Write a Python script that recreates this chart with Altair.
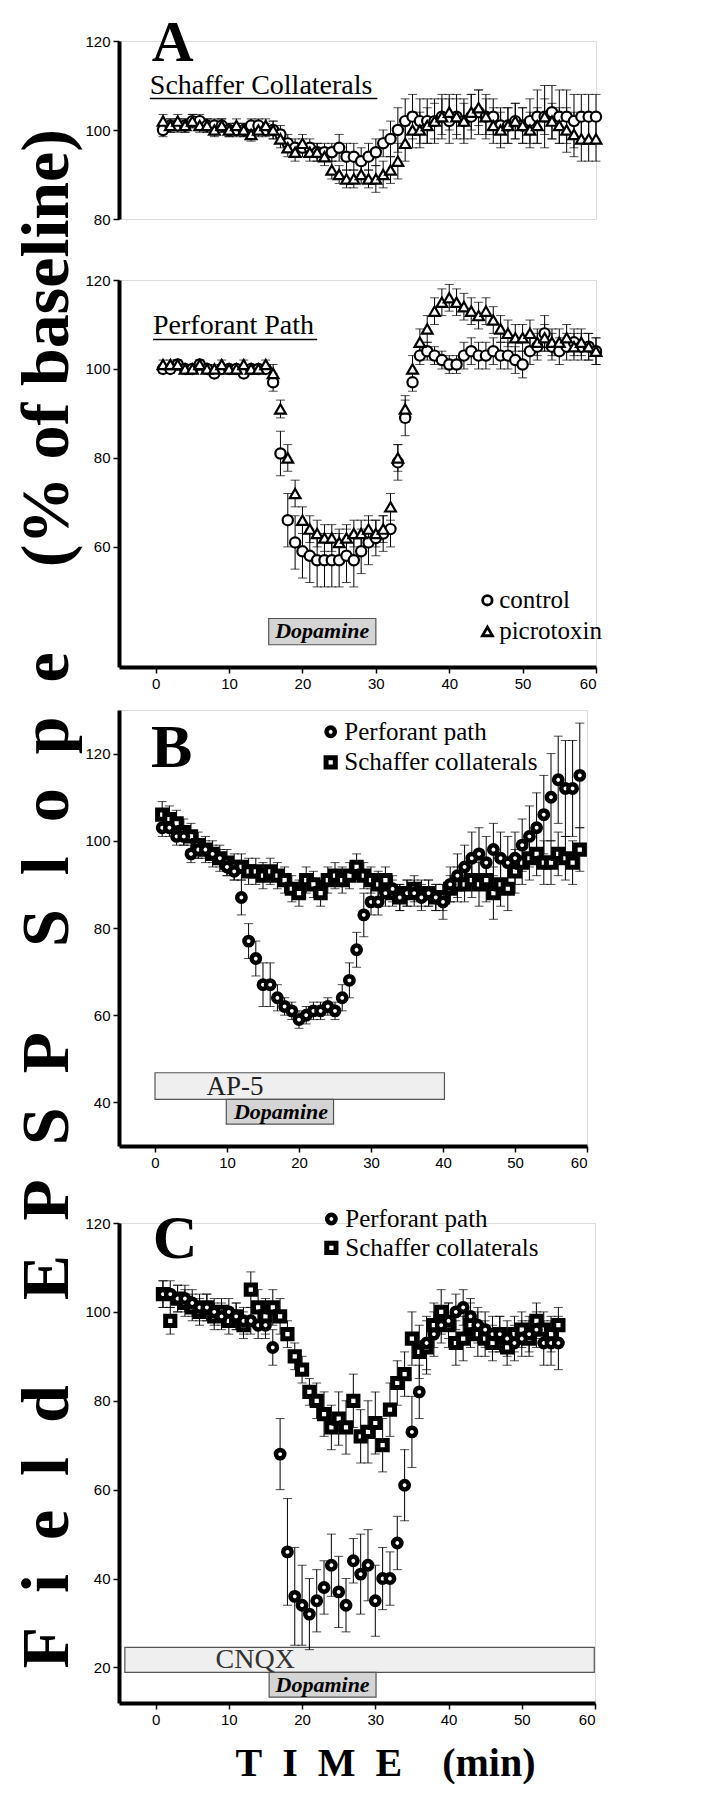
import altair as alt
import pandas as pd

SERIF = "Liberation Serif"
SANS = "Liberation Sans"

# ---------------- Panel A (time 1..60 min) ----------------
a_time = list(range(1, 61))
a_sch_ctrl = [100, 101, 101, 101, 102, 102, 101, 101, 101, 100,
              100, 100, 101, 101, 100, 100, 99, 97, 96, 96,
              96, 95, 95, 95, 96, 94, 94, 93, 94, 95,
              97, 98, 100, 102, 103, 102, 102, 102, 103, 102,
              103, 102, 103, 104, 103, 103, 101, 101, 102, 101,
              102, 103, 103, 104, 103, 103, 102, 103, 103, 103]
a_sch_ctrl_err = [1.5, 1.5, 1.5, 1.5, 1.5, 1.5, 1.5, 1.5, 1.5, 1.5,
                  1.5, 1.5, 1.5, 1.5, 1.5, 2, 2, 2, 2, 2,
                  2, 2, 2, 2, 3, 3, 3, 3, 3, 3,
                  3, 4, 5, 5, 5, 5, 5, 5, 5, 5,
                  5, 5, 5, 5, 5, 4, 4, 4, 4, 4,
                  5, 6, 7, 6, 6, 6, 6, 5, 5, 5]
a_sch_picro = [102, 101, 102, 101, 102, 101, 101, 100, 101, 100,
               101, 100, 99, 100, 101, 100, 98, 96, 95, 97,
               95, 95, 94, 91, 90, 89, 89, 90, 89, 89,
               90, 91, 93, 97, 100, 100, 101, 102, 103, 104,
               103, 102, 104, 105, 103, 101, 100, 101, 102, 101,
               100, 101, 103, 102, 101, 100, 99, 98, 98, 98]
a_sch_picro_err = [1.5, 1.5, 1.5, 1.5, 1.5, 1.5, 1.5, 1.5, 1.5, 1.5,
                   1.5, 1.5, 1.5, 1.5, 1.5, 2, 2, 2, 2, 2,
                   2, 2, 2, 2, 2, 2, 2, 2, 2, 3,
                   3, 3, 4, 4, 4, 4, 4, 4, 4, 4,
                   4, 4, 4, 4, 4, 4, 4, 4, 4, 4,
                   4, 4, 4, 4, 4, 5, 5, 5, 5, 5]
a_pp_ctrl = [100, 100, 101, 100, 100, 101, 100, 99, 100, 100,
             100, 99, 100, 100, 100, 97, 81, 66, 61, 59,
             58, 57, 57, 57, 57, 58, 57, 59, 61, 62,
             63, 64, 79, 89, 97, 103, 104, 103, 102, 101,
             101, 103, 104, 103, 103, 104, 103, 103, 102, 101,
             104, 105, 108, 105, 104, 105, 106, 105, 105, 104]
a_pp_ctrl_err = [1, 1, 1, 1, 1, 1, 1, 1, 1, 1,
                 1, 1, 1, 1, 1, 2, 5, 6, 6, 6,
                 6, 6, 6, 6, 6, 6, 6, 5, 5, 4,
                 4, 4, 4, 4, 2, 2, 2, 2, 2, 2,
                 2, 3, 3, 3, 3, 3, 3, 3, 3, 3,
                 3, 3, 4, 3, 3, 3, 3, 3, 3, 3]
a_pp_picro = [101, 101, 101, 100, 100, 101, 100, 100, 101, 100,
              100, 101, 100, 100, 101, 99, 91, 80, 72, 66,
              64, 63, 62, 62, 61, 62, 63, 63, 64, 63,
              64, 69, 80, 91, 100, 106, 109, 113, 115, 116,
              115, 114, 113, 112, 113, 111, 109, 108, 107, 107,
              108, 106, 107, 106, 106, 107, 105, 106, 105, 104]
a_pp_picro_err = [1, 1, 1, 1, 1, 1, 1, 1, 1, 1,
                  1, 1, 1, 1, 1, 2, 2, 3, 3, 3,
                  3, 3, 3, 3, 3, 3, 3, 3, 3, 3,
                  3, 3, 3, 3, 3, 3, 3, 3, 3, 3,
                  3, 3, 3, 3, 3, 3, 3, 3, 3, 3,
                  3, 3, 3, 3, 3, 3, 3, 3, 3, 3]

# ---------------- Panel B (time 1..59 min) ----------------
b_time = list(range(1, 60))
b_pp = [103, 103, 101, 101, 97, 98, 98, 97, 96, 94,
        93, 87, 77, 73, 67, 67, 64, 62, 61, 59,
        60, 61, 61, 62, 61, 64, 68, 75, 83, 86,
        86, 88, 89, 87, 88, 88, 87, 88, 87, 86,
        90, 92, 94, 96, 97, 95, 98, 96, 95, 96,
        99, 101, 103, 106, 110, 114, 112, 112, 115]
b_pp_err = [2, 2, 2, 2, 2, 2, 2, 2, 2, 2,
            2, 4, 4, 4, 5, 5, 3, 2, 2, 2,
            2, 2, 2, 2, 2, 3, 4, 4, 5, 3,
            3, 3, 3, 3, 3, 3, 3, 3, 3, 4,
            4, 5, 5, 6, 6, 6, 6, 6, 6, 6,
            6, 7, 8, 9, 10, 10, 11, 11, 12]
b_sc = [106, 105, 104, 102, 101, 99, 98, 97, 96, 95,
        94, 94, 93, 93, 92, 93, 92, 91, 89, 88,
        91, 90, 88, 91, 92, 91, 92, 94, 92, 91,
        90, 91, 88, 87, 88, 89, 88, 88, 87, 87,
        89, 90, 90, 91, 90, 91, 88, 90, 89, 93,
        95, 96, 97, 95, 95, 97, 96, 95, 98]
b_sc_err = [3, 3, 3, 3, 3, 3, 3, 3, 3, 3,
            3, 3, 3, 3, 3, 3, 3, 3, 3, 3,
            3, 3, 3, 3, 3, 3, 3, 3, 3, 3,
            3, 3, 3, 3, 3, 3, 3, 3, 3, 3,
            3, 4, 4, 4, 5, 5, 6, 5, 5, 5,
            5, 5, 5, 5, 5, 5, 5, 5, 5]

# ---------------- Panel C (time 1..55 min) ----------------
c_time = list(range(1, 56))
c_pp = [104, 104, 103, 103, 102, 101, 101, 100, 99, 100,
        99, 98, 98, 97, 97, 92, 68, 46, 36, 34,
        32, 35, 38, 43, 37, 34, 44, 41, 43, 35,
        40, 40, 48, 61, 73, 82, 93, 95, 97, 98,
        100, 101, 99, 97, 96, 95, 95, 94, 93, 94,
        95, 96, 93, 93, 93]
c_pp_err = [3, 3, 3, 3, 3, 3, 3, 3, 3, 3,
            3, 3, 3, 3, 3, 4, 8, 12, 11, 9,
            8, 7, 6, 7, 8, 6, 5, 9, 8, 8,
            7, 6, 6, 8, 8, 6, 6, 5, 4, 4,
            4, 4, 4, 4, 4, 4, 4, 4, 4, 4,
            4, 4, 5, 5, 6]
c_sc = [104, 98, 103, 102, 101, 100, 101, 99, 100, 98,
        99, 97, 105, 101, 99, 101, 99, 95, 90, 87,
        82, 80, 77, 74, 76, 74, 80, 72, 73, 75,
        70, 78, 84, 86, 94, 91, 92, 97, 100, 97,
        93, 94, 97, 95, 94, 93, 95, 92, 95, 96,
        94, 98, 96, 95, 97]
c_sc_err = [3, 3, 3, 3, 3, 3, 3, 3, 3, 3,
            3, 3, 4, 4, 4, 4, 4, 3, 3, 3,
            3, 4, 5, 5, 6, 6, 6, 6, 7, 7,
            6, 6, 5, 5, 6, 6, 6, 5, 5, 5,
            5, 5, 5, 5, 4, 4, 4, 4, 4, 4,
            4, 4, 4, 4, 4]

X_TICKS = [0, 10, 20, 30, 40, 50, 60]


def axis_common(values, **kw):
    return alt.Axis(values=values, labelFont=SANS, labelFontSize=15, labelColor="black",
                    domainColor="black", domainWidth=4, tickColor="black", tickWidth=1.5,
                    tickSize=6, labelPadding=3, grid=False, **kw)


def make_panel(xdom, ydom, xaxis, yaxis, w, h, series, texts, rects, rules, legend_pts):
    def X(f):
        return alt.X(f, type="quantitative", scale=alt.Scale(domain=xdom, nice=False, zero=False), axis=xaxis)

    def Y(f):
        return alt.Y(f, type="quantitative", scale=alt.Scale(domain=ydom, nice=False, zero=False), axis=yaxis)

    layers = []
    for r in rects:
        df = pd.DataFrame([r])
        layers.append(alt.Chart(df).mark_rect(fill=r["fill"], stroke="#555555", strokeWidth=1.2)
                      .encode(x=X("x1"), x2="x2", y=Y("y1"), y2="y2"))
    for (t, v, e, shape, size, sw) in series:
        df = pd.DataFrame({"t": t, "v": v, "e": e})
        df["lo"] = df["v"] - df["e"]
        df["hi"] = df["v"] + df["e"]
        base = alt.Chart(df)
        layers.append(base.mark_rule(color="black", strokeWidth=1).encode(x=X("t"), y=Y("lo"), y2="hi"))
        layers.append(base.mark_tick(color="black", orient="horizontal", size=9, thickness=1)
                      .encode(x=X("t"), y=Y("hi")))
        layers.append(base.mark_tick(color="black", orient="horizontal", size=9, thickness=1)
                      .encode(x=X("t"), y=Y("lo")))
    for (t, v, e, shape, size, sw) in series:
        df = pd.DataFrame({"t": t, "v": v})
        layers.append(alt.Chart(df).mark_point(shape=shape, size=size, filled=True, fill="white",
                                               stroke="black", strokeWidth=sw, opacity=1)
                      .encode(x=X("t"), y=Y("v")))
    for lp in legend_pts:
        df = pd.DataFrame([lp])
        layers.append(alt.Chart(df).mark_point(shape=lp["shape"], size=lp["size"], filled=True, fill="white",
                                               stroke="black", strokeWidth=lp["sw"], opacity=1)
                      .encode(x=X("x"), y=Y("y")))
    for ru in rules:
        df = pd.DataFrame([ru])
        layers.append(alt.Chart(df).mark_rule(color="black", strokeWidth=1.5)
                      .encode(x=X("x1"), x2="x2", y=Y("y")))
    for tx in texts:
        df = pd.DataFrame([{"x": tx["x"], "y": tx["y"], "label": tx["text"]}])
        layers.append(alt.Chart(df).mark_text(font=tx.get("font", SERIF), fontSize=tx["size"],
                                              fontWeight=tx.get("weight", "normal"),
                                              fontStyle=tx.get("style", "normal"),
                                              align=tx.get("align", "left"),
                                              baseline=tx.get("baseline", "alphabetic"),
                                              color=tx.get("color", "black"))
                      .encode(x=X("x"), y=Y("y"), text="label:N"))
    return alt.layer(*layers).properties(width=w, height=h)


DOPA = "#d4d4d4"
LIGHT = "#efefef"

# ---- Panel A top: Schaffer collaterals ----
a_top = make_panel(
    [-5, 60], [80, 120], None, axis_common([80, 100, 120], title=None), 477, 178,
    series=[(a_time, a_sch_ctrl, a_sch_ctrl_err, "circle", 105, 2.2),
            (a_time, a_sch_picro, a_sch_picro_err, "triangle-up", 115, 2.2)],
    texts=[{"x": -0.55, "y": 115.6, "text": "A", "size": 58, "weight": "bold"},
           {"x": -0.8, "y": 108.0, "text": "Schaffer Collaterals", "size": 28}],
    rects=[],
    rules=[{"x1": -0.8, "x2": 30.2, "y": 107.1}],
    legend_pts=[])

# ---- Panel A bottom: Perforant path ----
a_bot = make_panel(
    [-5, 60], [33, 120], axis_common(X_TICKS, title=None), axis_common([60, 80, 100, 120], title=None), 477, 387,
    series=[(a_time, a_pp_ctrl, a_pp_ctrl_err, "circle", 105, 2.2),
            (a_time, a_pp_picro, a_pp_picro_err, "triangle-up", 115, 2.2)],
    texts=[{"x": -0.37, "y": 107.9, "text": "Perforant Path", "size": 28},
           {"x": 22.7, "y": 41.0, "text": "Dopamine", "size": 22, "weight": "bold", "style": "italic",
            "align": "center", "baseline": "middle"},
           {"x": 46.8, "y": 48.0, "text": "control", "size": 25, "baseline": "middle"},
           {"x": 46.8, "y": 41.0, "text": "picrotoxin", "size": 25, "baseline": "middle"}],
    rects=[{"x1": 15.4, "x2": 30.0, "y1": 38.0, "y2": 43.9, "fill": DOPA}],
    rules=[{"x1": -0.37, "x2": 22.0, "y": 106.6}],
    legend_pts=[{"x": 45.2, "y": 48.0, "shape": "circle", "size": 90, "sw": 2.8},
                {"x": 45.2, "y": 41.0, "shape": "triangle-up", "size": 100, "sw": 2.8}])

# ---- Panel B ----
b_panel = make_panel(
    [-5, 60], [30, 130], axis_common(X_TICKS, title=None), axis_common([40, 60, 80, 100, 120], title=None), 468, 436,
    series=[(b_time, b_sc, b_sc_err, "square", 85, 5),
            (b_time, b_pp, b_pp_err, "circle", 70, 4.5)],
    texts=[{"x": -0.56, "y": 117.0, "text": "B", "size": 62, "weight": "bold"},
           {"x": 26.3, "y": 125.0, "text": "Perforant path", "size": 25, "baseline": "middle"},
           {"x": 26.3, "y": 118.0, "text": "Schaffer collaterals", "size": 25, "baseline": "middle"},
           {"x": 11.1, "y": 43.6, "text": "AP-5", "size": 27, "align": "center", "baseline": "middle",
            "color": "#222222"},
           {"x": 17.5, "y": 37.8, "text": "Dopamine", "size": 22, "weight": "bold", "style": "italic",
            "align": "center", "baseline": "middle"}],
    rects=[{"x1": 0.0, "x2": 40.2, "y1": 40.7, "y2": 46.8, "fill": LIGHT},
           {"x1": 9.9, "x2": 24.8, "y1": 35.0, "y2": 40.7, "fill": DOPA}],
    rules=[],
    legend_pts=[{"x": 24.4, "y": 125.0, "shape": "circle", "size": 70, "sw": 4.5},
                {"x": 24.4, "y": 118.0, "shape": "square", "size": 85, "sw": 5}])

# ---- Panel C ----
c_xaxis = axis_common(X_TICKS, title="T\u2002I\u2002M\u2002E\u2003(min)", titleFont=SERIF, titleFontSize=40,
                      titleFontWeight="bold", titleColor="black", titleX=266, titleY=72,
                      titleAlign="center", titleBaseline="alphabetic")
c_panel = make_panel(
    [-5, 60], [12, 120], c_xaxis, axis_common([20, 40, 60, 80, 100, 120], title=None), 476, 480,
    series=[(c_time, c_sc, c_sc_err, "square", 85, 5),
            (c_time, c_pp, c_pp_err, "circle", 70, 4.5)],
    texts=[{"x": -0.4, "y": 112.1, "text": "C", "size": 62, "weight": "bold"},
           {"x": 25.9, "y": 120.9, "text": "Perforant path", "size": 25, "baseline": "middle"},
           {"x": 25.9, "y": 114.4, "text": "Schaffer collaterals", "size": 25, "baseline": "middle"},
           {"x": 13.6, "y": 21.6, "text": "CNQX", "size": 28, "align": "center", "baseline": "middle",
            "color": "#333333"},
           {"x": 22.8, "y": 16.1, "text": "Dopamine", "size": 22, "weight": "bold", "style": "italic",
            "align": "center", "baseline": "middle"}],
    rects=[{"x1": -4.2, "x2": 59.9, "y1": 18.9, "y2": 24.5, "fill": LIGHT},
           {"x1": 15.5, "x2": 30.1, "y1": 13.3, "y2": 18.9, "fill": DOPA}],
    rules=[],
    legend_pts=[{"x": 24.0, "y": 120.9, "shape": "circle", "size": 70, "sw": 4.5},
                {"x": 24.0, "y": 114.4, "shape": "square", "size": 85, "sw": 5}])

TITLE_TEXT = ("F\u2002i\u2002e\u2002l\u2002d\u2003 E\u2002P\u2002S\u2002P\u2003 "
              "S\u2002l\u2002o\u2002p\u2002e\u2003 (% of baseline)\u2002")
big_title = alt.TitleParams(text=TITLE_TEXT, orient="left", anchor="middle", font=SERIF, fontSize=68,
                            fontWeight="bold", color="black", offset=2)

panel_a = alt.vconcat(a_top, a_bot, spacing=44)
ab = alt.vconcat(panel_a, b_panel, spacing=17)
chart = alt.vconcat(ab, c_panel, spacing=34).properties(
    title=big_title, padding={"left": 6, "top": 6, "right": 0, "bottom": 0}
).configure_view(stroke=None).configure(background="white")

chart.save("out.html", embed_options={"renderer": "svg", "actions": False})
